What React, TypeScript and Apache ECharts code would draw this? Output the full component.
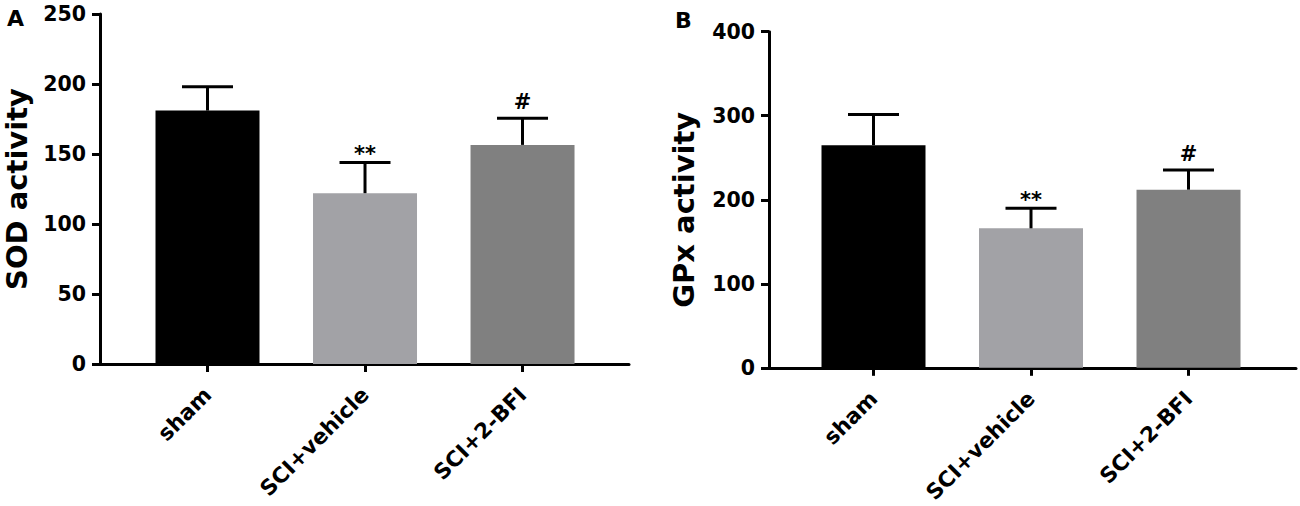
import React, { useEffect, useRef } from "react";
import * as echarts from "echarts";

const categories = ["sham", "SCI+vehicle", "SCI+2-BFI"];
const sodMean = [181, 122, 156.5];
const sodSd = [17, 22, 19];
const sodSig = ["", "**", "#"];
const gpxMean = [265, 166, 212];
const gpxSd = [36.5, 24, 23.5];
const gpxSig = ["", "**", "#"];
const sodTicks = { min: 0, max: 250, interval: 50 };
const gpxTicks = { min: 0, max: 400, interval: 100 };
const barColors = ["#000000", "#a2a2a6", "#808080"];

const FONT = '"DejaVu Sans", "Liberation Sans", Arial, sans-serif';

function makeErrorSeries(gridIndex: number, means: number[], sds: number[], sigs: string[]) {
  return {
    type: "custom",
    xAxisIndex: gridIndex,
    yAxisIndex: gridIndex,
    clip: false,
    z: 5,
    data: means.map((m, i) => [i, m, sds[i]]),
    renderItem: (_params: any, api: any) => {
      const i = api.value(0);
      const m = api.value(1);
      const e = api.value(2);
      const top = api.coord([i, m + e]);
      const base = api.coord([i, m]);
      const half = 25.5;
      const sig = sigs[Math.round(i)] || "";
      const off = sig.indexOf("*") >= 0 ? 8 : 16;
      const lineStyle = { stroke: "#000", lineWidth: 3 };
      const children: any[] = [
        { type: "line", shape: { x1: base[0], y1: base[1], x2: top[0], y2: top[1] }, style: lineStyle },
        { type: "line", shape: { x1: top[0] - half, y1: top[1], x2: top[0] + half, y2: top[1] }, style: lineStyle },
      ];
      if (sig) {
        children.push({
          type: "text",
          x: top[0],
          y: top[1] - off,
          style: {
            text: sig,
            fill: "#000",
            fontSize: 21,
            fontWeight: "bold",
            fontFamily: FONT,
            align: "center",
            verticalAlign: "middle",
          },
        });
      }
      return { type: "group", children };
    },
  };
}

function makeBarSeries(gridIndex: number, means: number[]) {
  return {
    type: "bar",
    xAxisIndex: gridIndex,
    yAxisIndex: gridIndex,
    barWidth: 104,
    z: 3,
    data: means.map((m, i) => ({ value: [i, m], itemStyle: { color: barColors[i] } })),
  };
}

function makeXAxis(gridIndex: number, min: number, max: number) {
  return {
    type: "value",
    gridIndex,
    min,
    max,
    splitLine: { show: false },
    axisLine: { show: true, onZero: false, lineStyle: { color: "#000", width: 3 } },
    axisTick: { show: true, length: 8, customValues: [0, 1, 2], lineStyle: { color: "#000", width: 3 } },
    axisLabel: {
      show: true,
      customValues: [0, 1, 2],
      rotate: 45,
      margin: 27,
      color: "#000",
      fontSize: 21.5,
      fontWeight: "bold",
      fontFamily: FONT,
      formatter: (v: number) => categories[Math.round(v)] ?? "",
    },
  };
}

function makeYAxis(
  gridIndex: number,
  t: { min: number; max: number; interval: number },
  name: string,
  nameGap: number,
  namePadding: number[]
) {
  return {
    type: "value",
    gridIndex,
    min: t.min,
    max: t.max,
    interval: t.interval,
    name,
    nameLocation: "middle",
    nameGap,
    nameTextStyle: { color: "#000", fontSize: 29, fontWeight: "bold", fontFamily: FONT, padding: namePadding },
    splitLine: { show: false },
    axisLine: { show: true, onZero: false, lineStyle: { color: "#000", width: 3 } },
    axisTick: { show: true, length: 8, lineStyle: { color: "#000", width: 3 } },
    axisLabel: { color: "#000", fontSize: 20.5, fontWeight: "bold", fontFamily: FONT, margin: 14 },
  };
}

export default function App() {
  const ref = useRef<HTMLDivElement>(null);
  useEffect(() => {
    if (!ref.current) return;
    const chart = echarts.init(ref.current, null, { renderer: "svg" });
    chart.setOption({
      animation: false,
      backgroundColor: "#fff",
      grid: [
        { left: 100, top: 14, width: 529, height: 350 },
        { left: 769, top: 31.7, width: 527, height: 338 },
      ],
      xAxis: [makeXAxis(0, -0.6825, 2.676), makeXAxis(1, -0.6635, 2.6825)],
      yAxis: [
        makeYAxis(0, sodTicks, "SOD activity", 69, [0, 0, 0, 0]),
        makeYAxis(1, gpxTicks, "GPx activity", 71, [0, 20, 0, 0]),
      ],
      graphic: [
        { type: "text", left: 7, top: 7, style: { text: "A", fill: "#000", fontSize: 22, fontWeight: "bold", fontFamily: FONT } },
        { type: "text", left: 675, top: 9, style: { text: "B", fill: "#000", fontSize: 22, fontWeight: "bold", fontFamily: FONT } },
      ],
      series: [
        makeBarSeries(0, sodMean),
        makeErrorSeries(0, sodMean, sodSd, sodSig),
        makeBarSeries(1, gpxMean),
        makeErrorSeries(1, gpxMean, gpxSd, gpxSig),
      ],
    });
    return () => chart.dispose();
  }, []);
  return (
    <div
      ref={ref}
      style={{ position: "absolute", left: 0, top: 0, width: 1300, height: 506, background: "#fff" }}
    />
  );
}
